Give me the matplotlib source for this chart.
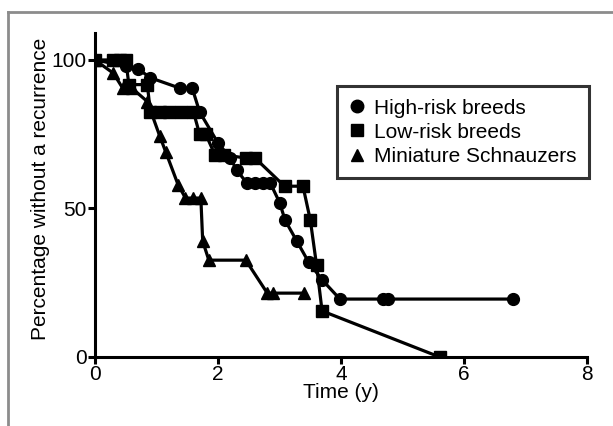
import matplotlib
matplotlib.use("Agg")
import matplotlib.pyplot as plt
from matplotlib.lines import Line2D

plt.rcParams['font.family'] = ['Liberation Sans', 'DejaVu Sans']

# survival data (time in years, percent without recurrence)
high_t = [0, 0.5, 0.7, 0.9, 1.38, 1.58, 1.7, 2.0, 2.2, 2.3, 2.47, 2.6, 2.73, 2.85,
          3.0, 3.09, 3.28, 3.47, 3.69, 3.98, 4.68, 4.76, 6.8]
high_p = [100, 98, 97, 94, 90.5, 90.5, 82.5, 72, 67, 63, 58.5, 58.5, 58.5, 58.5,
          52, 46, 39, 32, 26, 19.5, 19.5, 19.5, 19.5]

low_t = [0, 0.3, 0.4, 0.5, 0.55, 0.85, 0.9, 1.05, 1.2, 1.4, 1.6, 1.7, 1.8, 1.95, 2.1,
         2.45, 2.6, 3.08, 3.38, 3.5, 3.6, 3.69, 5.6]
low_p = [100, 100, 100, 100, 91.7, 91.7, 82.5, 82.5, 82.5, 82.5, 82.5, 75, 75, 68, 68,
         67, 67, 57.5, 57.5, 46, 31, 15.5, 0]

schn_t = [0, 0.3, 0.45, 0.6, 0.85, 1.05, 1.15, 1.35, 1.47, 1.6, 1.72, 1.75, 1.85,
          2.45, 2.8, 2.9, 3.4]
schn_p = [100, 95.5, 90.5, 90.5, 86, 74.5, 69, 58, 53.5, 53.5, 53.5, 39, 32.6,
          32.6, 21.5, 21.5, 21.5]

labels = ['High-risk breeds', 'Low-risk breeds', 'Miniature Schnauzers']
markers = ['o', 's', '^']

fig = plt.figure(figsize=(6.13, 4.26), dpi=100)
ax = fig.add_axes([0.155, 0.162, 0.803, 0.76])

ax.plot(high_t, high_p, '-o', color='k', lw=2.3, ms=8.5)
ax.plot(low_t, low_p, '-s', color='k', lw=2.3, ms=8.5)
ax.plot(schn_t, schn_p, '-^', color='k', lw=2.3, ms=8.5)

ax.set_xlim(0, 8)
ax.set_ylim(0, 109)
ax.set_xticks([0, 2, 4, 6, 8])
ax.set_yticks([0, 50, 100])
ax.spines['top'].set_visible(False)
ax.spines['right'].set_visible(False)
for s in ['left', 'bottom']:
    ax.spines[s].set_linewidth(2.2)
ax.tick_params(width=2.2, length=5, labelsize=15, pad=1)
ax.set_xlabel('Time (y)', fontsize=15, labelpad=-1)
ax.set_ylabel('Percentage without a recurrence', fontsize=15)
ax.yaxis.set_label_coords(-0.092, 0.52)

handles = [Line2D([], [], marker=m, ls='none', color='k', ms=9) for m in markers]
leg = ax.legend(handles, labels, loc='upper right', bbox_to_anchor=(0.961, 0.798),
                bbox_transform=fig.transFigure, fontsize=15, frameon=True,
                fancybox=False, handlelength=0.8, handletextpad=0.4,
                labelspacing=0.25, borderpad=0.6, borderaxespad=0)
leg.get_frame().set_edgecolor('k')
leg.get_frame().set_linewidth(2.2)

# grey frame around the panel
fig.add_artist(Line2D([8 / 613, 1], [1 - 12 / 426, 1 - 12 / 426], color='#8c8c8c', lw=2))
fig.add_artist(Line2D([8 / 613, 8 / 613], [0, 1 - 12 / 426], color='#8c8c8c', lw=2))

fig.savefig('out.png', dpi=100)
